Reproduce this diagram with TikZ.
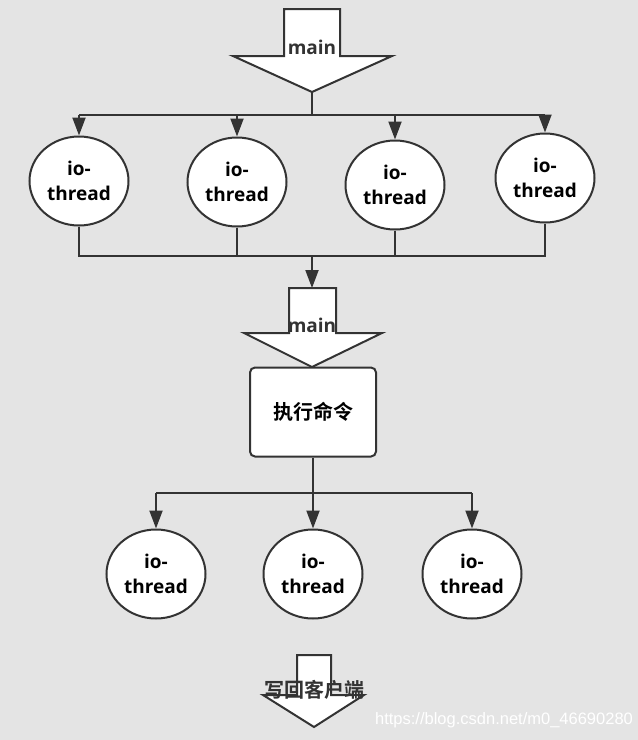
\documentclass[tikz,border=0pt]{standalone}
\usepackage{fontspec}
\setmainfont{Open Sans}
\newfontfamily\cjk{Noto Sans CJK SC}[BoldFont={Noto Sans CJK SC Bold}]
\newfontfamily\wmfont{Liberation Sans}
\usetikzlibrary{arrows.meta,shapes.geometric,backgrounds}
\definecolor{ink}{RGB}{51,51,51}
\definecolor{paper}{RGB}{228,228,228}

\begin{document}
\begin{tikzpicture}[x=1pt, y=-1pt, >={Triangle[length=18pt,width=13pt]},
 font=\bfseries\fontsize{19}{25}\selectfont, line width=2pt, draw=ink,
 thr/.style={draw=ink, ellipse, fill=white, minimum width=99pt, minimum height=89pt, inner sep=0pt, align=center},
 box/.style={draw=ink, rounded corners=5pt, fill=white, minimum width=126pt, minimum height=89pt, align=center},
 fat/.style={draw=ink, fill=white, line join=miter},
 lbl/.style={inner sep=0pt, text=ink},
 zh/.style={font=\cjk\bfseries\fontsize{20}{24}\selectfont},
 every edge/.style={draw=ink, ->}]
\fill[paper] (0,0) rectangle (638,740);
% main arrows
\draw[fat] (284,9) -- (340,9) -- (340,56) -- (392,56) -- (312,92) -- (233,56) -- (284,56) -- cycle;
\coordinate (tip1) at (312,92);
\node[lbl] (main1) at (312,47) {main};
\draw[fat] (289,288) -- (336,288) -- (336,333) -- (382,333) -- (312,367) -- (244,333) -- (289,333) -- cycle;
\coordinate (top2) at (312,288);
\node[lbl] (main2) at (312,325) {main};
% io-threads
\node[thr] (io1) at (79,181) {io-\\thread};
\node[thr] (io2) at (237,182) {io-\\thread};
\node[thr] (io3) at (395,185) {io-\\thread};
\node[thr] (io4) at (545,178) {io-\\thread};
\node[box, zh] (exec) at (313,412) {执行命令};
\node[thr] (io5) at (156,574) {io-\\thread};
\node[thr] (io6) at (313,574) {io-\\thread};
\node[thr] (io7) at (472,574) {io-\\thread};
% connectors
\coordinate (bus1) at (312,115);
\coordinate (bus2) at (312,256);
\coordinate (bus3) at (313,493);
\draw (tip1) -- (bus1) (io1|-bus1) -- (io4|-bus1);
\foreach \i in {1,...,4} \draw (io\i|-bus1) edge (io\i);
\draw (io1.south) |- (bus2) (io4.south) |- (bus2);
\draw (io2.south) -- (io2|-bus2) (io3.south) -- (io3|-bus2);
\draw (bus2) edge (top2);
\draw (exec.south) -- (bus3) (io5|-bus3) -- (io7|-bus3);
\foreach \i in {5,6,7} \draw (io\i|-bus3) edge (io\i);
% write back
\draw[fat] (297,655) -- (331,655) -- (331,695) -- (364,695) -- (314,727) -- (263,695) -- (297,695) -- cycle;
\node[lbl, zh] (back) at (314,690) {写回客户端};
\node[lbl, text=white, font=\wmfont\fontsize{16.5}{18}\selectfont] (wm) at (504,720) {https://blog.csdn.net/m0\_46690280};
\end{tikzpicture}
\end{document}
